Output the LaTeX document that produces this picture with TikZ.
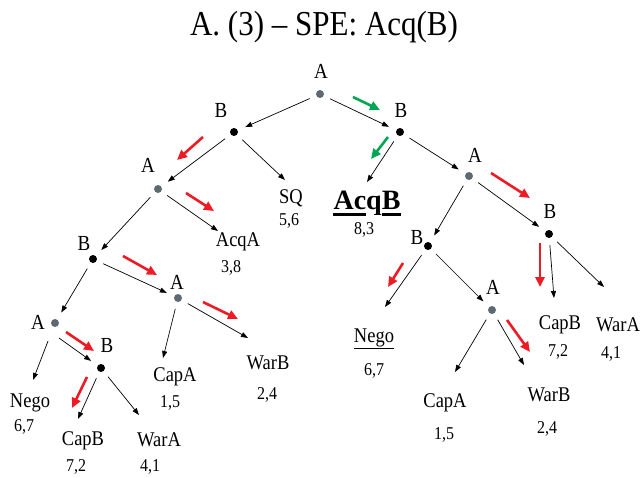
\documentclass[tikz,border=0pt]{standalone}
\usepackage{fontspec}
\usepackage{graphicx}
\setmainfont{Liberation Serif}
\usetikzlibrary{arrows.meta,calc}
\definecolor{myred}{HTML}{ED1C24}
\definecolor{mygreen}{HTML}{00A651}
\definecolor{dotgray}{HTML}{5E6A72}
\newcommand\vst[1]{\scalebox{1}[1.13]{#1}}
\begin{document}
\begin{tikzpicture}[x=1pt,y=-1pt,
  adot/.style={circle,fill=dotgray,inner sep=0pt,minimum size=8pt},
  bdot/.style={circle,fill=black,inner sep=0pt,minimum size=8pt},
  lab/.style={font=\fontsize{19}{19}\selectfont,inner sep=0pt},
  leaf/.style={font=\fontsize{18.5}{18.5}\selectfont,inner sep=0pt},
  pay/.style={font=\fontsize{16}{16}\selectfont,inner sep=0pt},
  edge/.style={-{Triangle[length=7pt,width=5pt]},line width=0.7pt,shorten <=7pt,shorten >=8pt},
  ledge/.style={-{Triangle[length=7pt,width=5pt]},line width=0.7pt,shorten <=7pt},
  redarr/.style={-{Triangle[length=10pt,width=9pt]},line width=2.6pt,myred},
  greenarr/.style={-{Triangle[length=10pt,width=9pt]},line width=2.6pt,mygreen}]
\useasboundingbox (0,0) rectangle (642,477);
% title
\node[font=\fontsize{31}{31}\selectfont] (title) at (324,27) {\vst{A. (3) -- SPE: Acq(B)}};
% decision nodes
\node[adot] (r) at (320,94) {};
\node[bdot] (b1) at (234,132) {};
\node[bdot] (b2) at (400,132) {};
\node[adot] (al) at (158,189) {};
\node[adot] (ar) at (469,176) {};
\node[bdot] (bl3) at (93,259) {};
\node[adot] (am) at (178,298) {};
\node[bdot] (bi) at (428,246) {};
\node[bdot] (bf) at (549,234) {};
\node[adot] (al4) at (55,323) {};
\node[bdot] (bl4) at (101,368) {};
\node[adot] (ar4) at (492,310) {};
% player labels
\node[lab] (lr) at (321,71) {\vst{A}};
\node[lab] (lb1) at (221,110) {\vst{B}};
\node[lab] (lb2) at (401,110) {\vst{B}};
\node[lab] (lal) at (148,165) {\vst{A}};
\node[lab] (lar) at (475,155) {\vst{A}};
\node[lab] (lbl3) at (84,243) {\vst{B}};
\node[lab] (lam) at (177,282) {\vst{A}};
\node[lab] (lbi) at (417,237) {\vst{B}};
\node[lab] (lbf) at (550,211) {\vst{B}};
\node[lab] (lal4) at (38,322) {\vst{A}};
\node[lab] (lbl4) at (107,345) {\vst{B}};
\node[lab] (lar4) at (493,287) {\vst{A}};
% leaves
\node[leaf] (sq) at (291,198) {\vst{SQ}};
\node[pay] (psq) at (289,221) {\vst{5,6}};
\node[leaf] (acqa) at (238,242) {\vst{AcqA}};
\node[pay] (pacqa) at (231,268) {\vst{3,8}};
\node[leaf] (capal) at (175,377) {\vst{CapA}};
\node[pay] (pcapal) at (170,403) {\vst{1,5}};
\node[leaf] (warbl) at (268,363) {\vst{WarB}};
\node[pay] (pwarbl) at (267,395) {\vst{2,4}};
\node[leaf] (negol) at (30,403) {\vst{Nego}};
\node[pay] (pnegol) at (24,427) {\vst{6,7}};
\node[leaf] (capbl) at (83,441) {\vst{CapB}};
\node[pay] (pcapbl) at (76,467) {\vst{7,2}};
\node[leaf] (waral) at (159,440) {\vst{WarA}};
\node[pay] (pwaral) at (150,467) {\vst{4,1}};
\node[font=\fontsize{28}{28}\selectfont\bfseries,inner sep=0pt,anchor=base] (acqb) at (367,209) {AcqB};
\node[pay] (pacqb) at (364,230) {\vst{8,3}};
\node[leaf] (negor) at (374,339) {\vst{\underline{Nego}}};
\node[pay] (pnegor) at (374,371) {\vst{6,7}};
\node[leaf] (capbr) at (560,325) {\vst{CapB}};
\node[pay] (pcapbr) at (558,352) {\vst{7,2}};
\node[leaf] (warar) at (618,325) {\vst{WarA}};
\node[pay] (pwarar) at (611,354) {\vst{4,1}};
\node[leaf] (capar) at (445,403) {\vst{CapA}};
\node[pay] (pcapar) at (444,435) {\vst{1,5}};
\node[leaf] (warbr) at (549,395) {\vst{WarB}};
\node[pay] (pwarbr) at (547,429) {\vst{2,4}};
% thick underline of AcqB, broken at the descender of q
\draw[line width=3pt] ([yshift=-5.5pt]acqb.base west) -- ([yshift=-5.5pt]$(acqb.base west)!0.49!(acqb.base east)$);
\draw[line width=3pt] ([yshift=-5.5pt]$(acqb.base west)!0.72!(acqb.base east)$) -- ([yshift=-5.5pt]acqb.base east);
% leaf edge ends
\coordinate (esq) at (285,180);
\coordinate (eacqa) at (218,231);
\coordinate (eacqb) at (367,182);
\coordinate (enegol) at (33,380);
\coordinate (ecapbl) at (78,419);
\coordinate (ewaral) at (139,415);
\coordinate (ecapal) at (163,358);
\coordinate (ewarbl) at (248,338);
\coordinate (enegor) at (385,307);
\coordinate (ecapar) at (455,372);
\coordinate (ewarbr) at (524,365);
\coordinate (ecapbr) at (554,298);
\coordinate (ewarar) at (604,287);
% edges
\draw[edge] (r) -- (b1);
\draw[edge] (r) -- (b2);
\draw[edge] (b1) -- (al);
\draw[ledge] (b1) -- (esq);
\draw[ledge] (b2) -- (eacqb);
\draw[edge] (b2) -- (ar);
\draw[edge] (al) -- (bl3);
\draw[ledge] (al) -- (eacqa);
\draw[edge] (ar) -- (bi);
\draw[edge] (ar) -- (bf);
\draw[edge] (bl3) -- (al4);
\draw[edge] (bl3) -- (am);
\draw[ledge] (am) -- (ecapal);
\draw[ledge] (am) -- (ewarbl);
\draw[ledge,shorten <=15pt] (al4) -- (enegol);
\draw[edge,shorten <=0pt] ([shift={(4,15)}]al4.center) -- (bl4);
\draw[ledge] (bl4) -- (ecapbl);
\draw[ledge] (bl4) -- (ewaral);
\draw[ledge] (bi) -- (enegor);
\draw[edge] (bi) -- (ar4);
\draw[ledge] (ar4) -- (ecapar);
\draw[ledge] (ar4) -- (ewarbr);
\draw[ledge] (bf) -- (ecapbr);
\draw[ledge] (bf) -- (ewarar);
% equilibrium arrows
\coordinate (g1s) at (353,97); \coordinate (g1e) at (380,110);
\coordinate (g2s) at (388,137); \coordinate (g2e) at (371,159);
\draw[greenarr] (g1s) -- (g1e);
\draw[greenarr] (g2s) -- (g2e);
\coordinate (r1s) at (203,137); \coordinate (r1e) at (177,160);
\coordinate (r2s) at (186,193); \coordinate (r2e) at (214,211);
\coordinate (r3s) at (123,256); \coordinate (r3e) at (157,275);
\coordinate (r4s) at (203,302); \coordinate (r4e) at (238,319);
\coordinate (r5s) at (66,332); \coordinate (r5e) at (94,351);
\coordinate (r6s) at (87,377); \coordinate (r6e) at (72,408);
\coordinate (r7s) at (491,173); \coordinate (r7e) at (530,198);
\coordinate (r8s) at (403,263); \coordinate (r8e) at (388,287);
\coordinate (r9s) at (540,243); \coordinate (r9e) at (540,287);
\coordinate (r10s) at (507,320); \coordinate (r10e) at (530,352);
\foreach \i in {1,...,10} \draw[redarr] (r\i s) -- (r\i e);
\end{tikzpicture}
\end{document}
